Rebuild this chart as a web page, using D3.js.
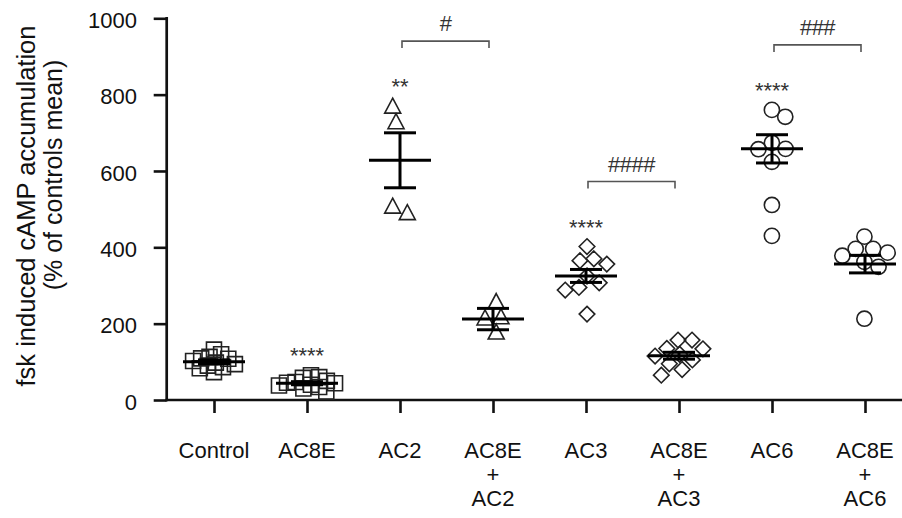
<!DOCTYPE html>
<html>
<head>
<meta charset="utf-8">
<script src="https://cdn.jsdelivr.net/npm/d3@7"></script>
<style>
  html, body { margin: 0; padding: 0; background: #fff; }
  svg { display: block; font-family: "Liberation Sans", Arial, sans-serif; }
</style>
</head>
<body>
<svg id="chart" width="902" height="518"></svg>
<script>
// ---------- data ----------
const categories = ["Control", "AC8E", "AC2", "AC8E+AC2", "AC3", "AC8E+AC3", "AC6", "AC8E+AC6"];
const tickLabels = [["Control"], ["AC8E"], ["AC2"], ["AC8E", "+", "AC2"], ["AC3"], ["AC8E", "+", "AC3"], ["AC6"], ["AC8E", "+", "AC6"]];
const symbols = ["square", "square", "triangle", "triangle", "diamond", "diamond", "circle", "circle"];

const controlVals = [132, 120, 113, 109, 108, 102, 98, 94, 90, 86, 83, 73];
const ac8eVals = [65, 60, 58, 50, 47, 45, 44, 40, 38, 34, 30, 22];
const ac2Vals = [770, 729, 508, 491];
const ac8eAc2Vals = [258, 218, 215, 178];
const ac3Vals = [402, 370, 365, 356, 325, 307, 295, 288, 225];
const ac8eAc3Vals = [157, 157, 135, 134, 120, 115, 105, 95, 80, 65];
const ac6Vals = [760, 742, 674, 658, 657, 624, 511, 430];
const ac8eAc6Vals = [428, 396, 396, 386, 378, 362, 349, 213];
const seriesVals = [controlVals, ac8eVals, ac2Vals, ac8eAc2Vals, ac3Vals, ac8eAc3Vals, ac6Vals, ac8eAc6Vals];

const means = [100, 44, 628, 212, 325, 116, 658, 356];
const sems = [5, 4, 72, 28, 17, 9, 37, 23];

const stars = ["", "****", "**", "", "****", "", "****", ""];
const comparisons = [
  { from: "AC2", to: "AC8E+AC2", label: "#" },
  { from: "AC3", to: "AC8E+AC3", label: "####" },
  { from: "AC6", to: "AC8E+AC6", label: "###" }
];
const yTicks = [0, 200, 400, 600, 800, 1000];

// ---------- layout ----------
const svg = d3.select("#chart");
const axisX0 = 166.7, axisY0 = 400, plotRight = 902;
const y = d3.scaleLinear().domain([0, 1000]).range([axisY0, 18.3]);
const x = d3.scalePoint().domain(categories).range([214, 865]);

// y axis
const yAxis = svg.append("g").attr("transform", `translate(${axisX0},0)`)
  .call(d3.axisLeft(y).tickValues(yTicks).tickSize(13).tickSizeOuter(0).tickPadding(16.7).tickFormat(d3.format("d")));
yAxis.select(".domain").remove();
yAxis.selectAll(".tick line").attr("stroke", "#111").attr("stroke-width", 2.6);
yAxis.selectAll(".tick text").attr("font-size", 22).attr("fill", "#111").attr("dy", "0.42em")
  .attr("font-family", '"Liberation Sans", Arial, sans-serif');
svg.append("line").attr("x1", axisX0).attr("x2", axisX0).attr("y1", y(1000) - 1.3).attr("y2", axisY0 + 1.3)
  .attr("stroke", "#111").attr("stroke-width", 2.7);

// x axis
const xAxis = svg.append("g").attr("transform", `translate(0,${axisY0})`)
  .call(d3.axisBottom(x).tickSize(13).tickSizeOuter(0).tickFormat(""));
xAxis.select(".domain").remove();
xAxis.selectAll(".tick line").attr("stroke", "#111").attr("stroke-width", 2.6);
svg.append("line").attr("x1", axisX0 - 1.3).attr("x2", plotRight).attr("y1", axisY0).attr("y2", axisY0)
  .attr("stroke", "#111").attr("stroke-width", 2.7);

// x tick labels (multi-line)
categories.forEach((c, i) => {
  const t = svg.append("text").attr("x", x(c)).attr("y", axisY0 + 58)
    .attr("text-anchor", "middle").attr("font-size", 22).attr("fill", "#111");
  tickLabels[i].forEach((line, k) => {
    t.append("tspan").attr("x", x(c)).attr("dy", k === 0 ? 0 : 24).text(line);
  });
});

// y axis title
svg.append("text").attr("transform", `translate(35,206) rotate(-90)`).attr("text-anchor", "middle")
  .attr("font-size", 25.5).attr("fill", "#111").text("fsk induced cAMP accumulation");
svg.append("text").attr("transform", `translate(61.5,175) rotate(-90)`).attr("text-anchor", "middle")
  .attr("font-size", 25).attr("fill", "#111").text("(% of controls mean)");

// ---------- beeswarm offsets ----------
function swarm(vals, D) {
  const placed = [];
  const out = [];
  vals.forEach((v, i) => {
    const yy = y(v);
    const intervals = [];
    placed.forEach(p => {
      const dy = Math.abs(p.y - yy);
      if (dy < D) {
        const dx = Math.sqrt(D * D - dy * dy);
        intervals.push([p.x - dx, p.x + dx]);
      }
    });
    const cands = [0];
    intervals.forEach(([a, b]) => cands.push(a, b));
    const free = c => intervals.every(([a, b]) => c <= a + 1e-6 || c >= b - 1e-6);
    let best = null;
    cands.filter(free).forEach(c => {
      if (best === null || Math.abs(c) < Math.abs(best) - 1e-6 ||
        (Math.abs(Math.abs(c) - Math.abs(best)) < 1e-6 && (i % 2 === 0 ? c < best : c > best))) best = c;
    });
    placed.push({ x: best, y: yy });
    out.push(best);
  });
  const mn = d3.min(out), mx = d3.max(out);
  const shift = (mn + mx) / 2;
  return out.map(o => o - shift);
}

const symbolPath = {
  square: "M-7.5,-7.5H7.5V7.5H-7.5Z",
  triangle: "M0,-8L8,7L-8,7Z",
  diamond: "M0,-7.8L7.8,0L0,7.8L-7.8,0Z",
  circle: "M7.6,0A7.6,7.6 0 1 1 -7.6,0A7.6,7.6 0 1 1 7.6,0Z"
};
const swarmD = { square: 8.5, triangle: 16, diamond: 14, circle: 15 };

// ---------- points ----------
categories.forEach((c, i) => {
  const vals = seriesVals[i];
  const offs = swarm(vals, swarmD[symbols[i]]);
  svg.append("g").selectAll("path").data(vals).join("path")
    .attr("d", symbolPath[symbols[i]])
    .attr("transform", (d, k) => `translate(${x(c) + offs[k]},${y(d)})`)
    .attr("fill", "none").attr("stroke", "#222").attr("stroke-width", 1.6);
});

// ---------- mean ± SEM ----------
categories.forEach((c, i) => {
  const g = svg.append("g").attr("stroke", "#000").attr("stroke-width", 3);
  const cx = x(c);
  g.append("line").attr("x1", cx - 31).attr("x2", cx + 31).attr("y1", y(means[i])).attr("y2", y(means[i]));
  g.append("line").attr("x1", cx).attr("x2", cx).attr("y1", y(means[i] + sems[i])).attr("y2", y(means[i] - sems[i]));
  g.append("line").attr("x1", cx - 16).attr("x2", cx + 16).attr("y1", y(means[i] + sems[i])).attr("y2", y(means[i] + sems[i]));
  g.append("line").attr("x1", cx - 16).attr("x2", cx + 16).attr("y1", y(means[i] - sems[i])).attr("y2", y(means[i] - sems[i]));
});

// ---------- significance stars ----------
categories.forEach((c, i) => {
  if (!stars[i]) return;
  const top = y(d3.max(seriesVals[i]));
  svg.append("text").attr("x", x(c)).attr("y", top - 12).attr("text-anchor", "middle")
    .attr("font-size", 22).attr("fill", "#333").text(stars[i]);
});

// ---------- comparison brackets ----------
comparisons.forEach(cmp => {
  const i = categories.indexOf(cmp.from);
  const by = y(d3.max(seriesVals[i])) - 65;
  const x1 = x(cmp.from) + 2, x2 = x(cmp.to) - 4;
  svg.append("path").attr("d", `M${x1},${by + 7}V${by}H${x2}V${by + 7}`)
    .attr("fill", "none").attr("stroke", "#555").attr("stroke-width", 1.6);
  svg.append("text").attr("x", (x1 + x2) / 2).attr("y", by - 10).attr("text-anchor", "middle")
    .attr("font-size", 22).attr("letter-spacing", "-0.5").attr("fill", "#333").text(cmp.label);
});
</script>
</body>
</html>
